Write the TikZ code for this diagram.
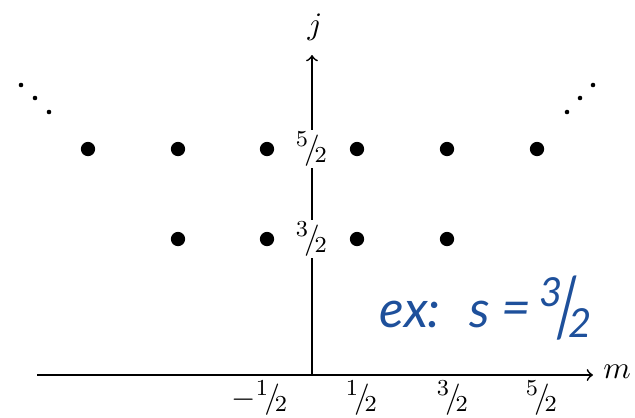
\documentclass[tikz,border=0pt]{standalone}
\usepackage{fontspec}
\newfontfamily\handfont{Lato}
\definecolor{inkblue}{RGB}{30,80,155}
\newcommand{\hfr}[2]{{}^{#1}\!/\!{}_{#2}}
\begin{document}
\begin{tikzpicture}[x=0.35pt,y=-0.35pt,
  font=\fontsize{11}{13}\selectfont,
  dot/.style={circle,fill=black,inner sep=0pt,minimum size=5pt},
  sdot/.style={circle,fill=black,inner sep=0pt,minimum size=1.6pt},
  axis/.style={semithick,->},
  ylab/.style={fill=white,inner sep=0.6pt},
  xlab/.style={inner sep=0pt},
  hand/.style={text=inkblue,inner sep=0pt,font=\handfont\itshape\fontsize{18}{20}\selectfont}]
\useasboundingbox (0,0) rectangle (635,417);
% axes
\coordinate (O) at (312,375);
\coordinate (xs) at (37,375);
\coordinate (xe) at (593,375);
\coordinate (ye) at (312,55);
\draw[axis] (xs) -- (xe);
\draw[axis] (O) -- (ye);
\node (mlab) at (617,372) {$m$};
\node (jlab) at (315,27) {$j$};
% vertical labels
\node[ylab] (j52) at (312,149) {$\hfr{5}{2}$};
\node[ylab] (j32) at (312,239) {$\hfr{3}{2}$};
% horizontal labels
\node[xlab] (mm12) at (260,398) {$-\hfr{1}{2}$};
\node[xlab] (m12) at (362,398) {$\hfr{1}{2}$};
\node[xlab] (m32) at (453,398) {$\hfr{3}{2}$};
\node[xlab] (m52) at (542,398) {$\hfr{5}{2}$};
% dots j=5/2
\foreach \x/\n in {88/a,178/b,267/c,357/d,447/e,537/f}
  \node[dot] (r5\n) at (\x,149) {};
% dots j=3/2
\foreach \x/\n in {178/b,267/c,357/d,447/e}
  \node[dot] (r3\n) at (\x,239) {};
% ellipsis dots
\node[sdot] (l1) at (21,85) {};
\node[sdot] (l2) at (35,98) {};
\node[sdot] (l3) at (49,112) {};
\node[sdot] (r1) at (593,85) {};
\node[sdot] (r2) at (580,98) {};
\node[sdot] (r3) at (567,112) {};
% handwritten note
\node[hand] (ex) at (410,314) {ex:};
\node[hand] (s) at (480,314) {s};
\node[hand] (eq) at (516,314) {=};
\node[hand,font=\handfont\itshape\fontsize{14}{16}\selectfont] (n3) at (551,292) {3};
\node[hand,font=\handfont\fontsize{18}{20}\selectfont] (sl) at (567,308) {\scalebox{1}[1.6]{/}};
\node[hand,font=\handfont\itshape\fontsize{14}{16}\selectfont] (d2) at (580,323) {2};
\end{tikzpicture}
\end{document}
